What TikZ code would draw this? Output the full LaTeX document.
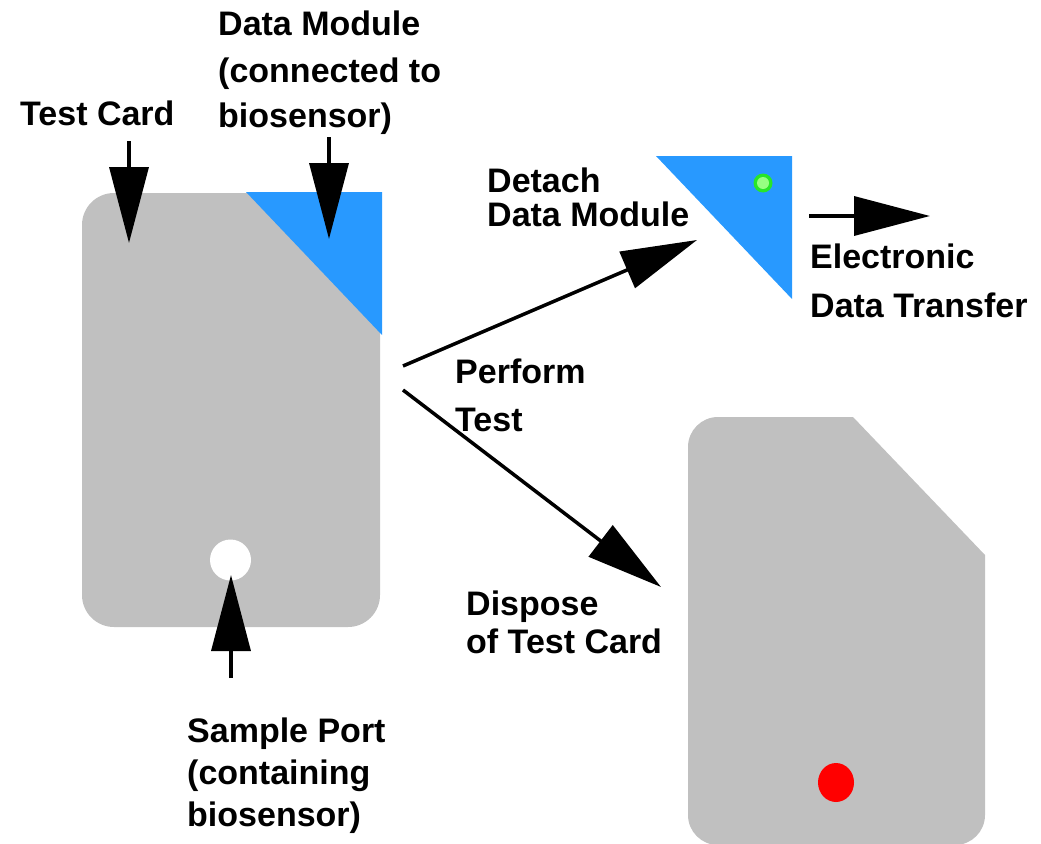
\documentclass[tikz,border=0pt]{standalone}
\usepackage{fontspec}
\setmainfont{Liberation Sans}
\usetikzlibrary{arrows.meta}
\definecolor{cardgray}{RGB}{192,192,192}
\definecolor{modblue}{RGB}{40,153,255}
\definecolor{ledgreen}{RGB}{40,230,40}
\definecolor{ledlight}{RGB}{150,255,130}
\tikzset{
  lbl/.style={anchor=base west, inner sep=0pt, font=\bfseries\fontsize{34}{40}\selectfont},
  bigarrow/.style={line width=3.5pt, -{Triangle[length=76pt,width=39pt]}},
}
\begin{document}
\begin{tikzpicture}[x=1pt,y=-1pt]
\useasboundingbox (0,0) rectangle (1041,843);
\clip (0,0) rectangle (1041,843);
% left test card
\fill[cardgray, rounded corners=32pt] (82,193) rectangle (380,627);
\fill[modblue] (246,192) -- (382,192) -- (382,335) -- cycle;
\fill[white] (230.5,560) circle (20.5);
% detached data module
\fill[modblue] (656,156) -- (792,156) -- (792,299) -- cycle;
\fill[ledgreen] (763,183) circle (9.5);
\fill[ledlight] (763,183) circle (6);
% disposed card
\fill[cardgray] (688,447) arc (180:270:30) -- (853,417) -- (985,555) -- (985,815) arc (0:90:30) -- (718,845) arc (90:180:30) -- cycle;
\fill[red] (836,782.5) ellipse (18 and 19.5);
% coordinates
\coordinate (tcA) at (129,141);  \coordinate (tcB) at (129,243);
\coordinate (dmA) at (329,137);  \coordinate (dmB) at (329,239);
\coordinate (spA) at (231,678);  \coordinate (spB) at (231,575);
\coordinate (deA) at (403,366);  \coordinate (deB) at (697,240);
\coordinate (diA) at (403,390);  \coordinate (diB) at (661,587);
\coordinate (elA) at (809,216);  \coordinate (elB) at (930,216);
\draw[bigarrow] (tcA) -- (tcB);
\draw[bigarrow] (dmA) -- (dmB);
\draw[bigarrow] (spA) -- (spB);
\draw[bigarrow] (deA) -- (deB);
\draw[bigarrow] (diA) -- (diB);
\draw[bigarrow] (elA) -- (elB);
% labels
\node[lbl] (dm1) at (218,36) {Data Module};
\node[lbl] (dm2) at (218,82) {(connected to};
\node[lbl] (dm3) at (218,127) {biosensor)};
\node[lbl] (tc) at (20,125) {Test Card};
\node[lbl] (de1) at (487,192) {Detach};
\node[lbl] (de2) at (487,226) {Data Module};
\node[lbl] (el1) at (810,268) {Electronic};
\node[lbl] (el2) at (810,317) {Data Transfer};
\node[lbl] (pt1) at (455,383) {Perform};
\node[lbl] (pt2) at (455,431) {Test};
\node[lbl] (di1) at (466,615) {Dispose};
\node[lbl] (di2) at (466,653) {of Test Card};
\node[lbl] (sp1) at (187,742) {Sample Port};
\node[lbl] (sp2) at (187,784) {(containing};
\node[lbl] (sp3) at (187,826) {biosensor)};
\end{tikzpicture}
\end{document}
